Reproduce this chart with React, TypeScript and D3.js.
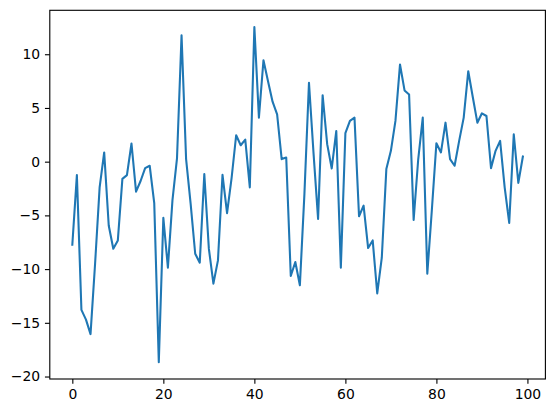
import React, {useEffect, useRef} from 'react';
import * as d3 from 'd3';

const values: number[] = [
  -7.73, -1.25, -13.8, -14.7, -16.05, -9.5, -2.39, 0.86, -5.94, -8.1,
  -7.33, -1.6, -1.25, 1.69, -2.79, -1.8, -0.6, -0.38, -3.85, -18.67,
  -5.23, -9.86, -3.6, 0.3, 11.76, 0.24, -3.93, -8.57, -9.4, -1.15,
  -8.1, -11.35, -9.19, -1.22, -4.8, -1.5, 2.46, 1.53, 2.06, -2.39,
  12.53, 4.1, 9.44, 7.49, 5.58, 4.41, 0.24, 0.39, -10.64, -9.34,
  -11.5, -3.0, 7.34, 0.8, -5.33, 6.19, 1.63, -0.63, 2.86, -9.86,
  2.65, 3.79, 4.1, -5.08, -4.09, -8.04, -7.33, -12.27, -8.94, -0.69,
  1.01, 3.79, 9.04, 6.63, 6.25, -5.43, 0.2, 4.1, -10.43, -4.5,
  1.72, 0.86, 3.63, 0.24, -0.38, 1.94, 4.1, 8.42, 6.0, 3.63,
  4.5, 4.25, -0.6, 1.01, 1.94, -2.39, -5.7, 2.55, -1.98, 0.48,
];
const xTicks = [0, 20, 40, 60, 80, 100];
const yTicks = [-20, -15, -10, -5, 0, 5, 10];

const W = 554;
const H = 413;
const box = {left: 49.8, top: 10.3, right: 545.4, bottom: 379};
const fmt = (d: number) => (d < 0 ? '\u2212' + Math.abs(d) : String(d));

export default function App() {
  const ref = useRef<SVGSVGElement>(null);

  useEffect(() => {
    const svg = d3.select(ref.current);
    svg.selectAll('*').remove();

    const n = values.length - 1;
    const x = d3.scaleLinear()
        .domain([-0.05 * n, n * 1.05])
        .range([box.left, box.right]);
    const [lo, hi] = d3.extent(values) as [number, number];
    const pad = (hi - lo) * 0.05;
    const y = d3.scaleLinear()
        .domain([lo - pad, hi + pad])
        .range([box.bottom, box.top]);

    const line = d3.line<number>()
        .x((d, i) => x(i))
        .y(d => y(d));

    svg.append('path')
        .datum(values)
        .attr('d', line)
        .attr('fill', 'none')
        .attr('stroke', '#1f77b4')
        .attr('stroke-width', 2.08)
        .attr('stroke-linejoin', 'round')
        .attr('stroke-linecap', 'square');

    const styleAxis = (g: d3.Selection<SVGGElement, unknown, null, undefined>) => {
      g.select('.domain').remove();
      g.selectAll('line').attr('stroke', '#000').attr('stroke-width', 1.11);
      g.selectAll('text')
          .attr('fill', '#000')
          .style('font-family', '"DejaVu Sans", sans-serif')
          .style('font-size', '13.9px');
    };

    svg.append('g')
        .attr('transform', `translate(0,${box.bottom})`)
        .call(d3.axisBottom(x).tickValues(xTicks).tickFormat(d => fmt(+d))
            .tickSize(4.86).tickPadding(4.86))
        .call(styleAxis);

    svg.append('g')
        .attr('transform', `translate(${box.left},0)`)
        .call(d3.axisLeft(y).tickValues(yTicks).tickFormat(d => fmt(+d))
            .tickSize(4.86).tickPadding(4.86))
        .call(styleAxis);

    // frame
    svg.append('rect')
        .attr('x', box.left)
        .attr('y', box.top)
        .attr('width', box.right - box.left)
        .attr('height', box.bottom - box.top)
        .attr('fill', 'none')
        .attr('stroke', '#000')
        .attr('stroke-width', 1.11);
  }, []);

  return (
    <svg ref={ref} width={W} height={H}
         style={{position: 'absolute', left: 0, top: 0, background: '#fff'}}/>
  );
}
